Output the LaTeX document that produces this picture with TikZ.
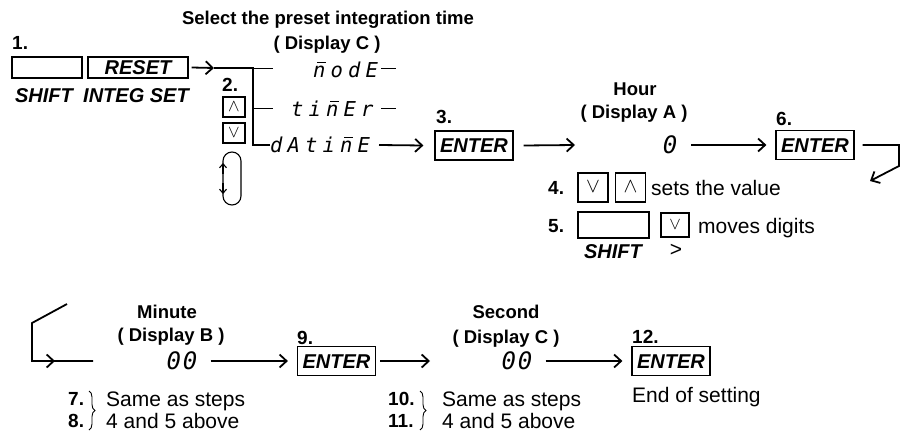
\documentclass[tikz,border=0pt]{standalone}
\usepackage{fontspec}
\setmainfont{Liberation Sans}
\newfontfamily\segfont{DejaVu Sans Mono}
\newfontfamily\segnum[LetterSpace=8]{DejaVu Sans Mono}
\newcommand\sgch[1]{\makebox[17.5pt][l]{#1}}
\newcommand\nbar{\rlap{\kern3.8pt\raisebox{14.2pt}{\rule{8.5pt}{1.1pt}}}n}
\usetikzlibrary{arrows.meta,decorations.pathreplacing}
\begin{document}
\begin{tikzpicture}[x=1pt,y=-1pt,
  conn/.style={line width=1.8pt},
  arr/.style={line width=1.8pt,-{Straight Barb[length=7pt,width=13pt]}},
  tap/.style={line width=0.9pt},
  key/.style={draw,line width=1.2pt,minimum width=78pt,minimum height=29pt,inner sep=0pt,
    font=\fontsize{20}{22}\selectfont\bfseries\itshape,text height=14.3pt,text depth=0pt},
  lbl/.style={font=\fontsize{20}{22}\selectfont\bfseries\itshape,inner sep=0pt,text height=14.3pt,text depth=0pt},
  head/.style={font=\fontsize{18.5}{20}\selectfont\bfseries,inner sep=0pt,text height=13.2pt,text depth=0pt},
  num/.style={font=\fontsize{19}{20}\selectfont\bfseries,inner sep=0pt,anchor=west,text height=13.6pt,text depth=0pt},
  body/.style={font=\fontsize{21}{22}\selectfont,inner sep=0pt,anchor=west,text height=15pt,text depth=0pt},
  seg/.style={font=\fontsize{20.5}{22}\selectfont\segfont\itshape,inner sep=0pt,anchor=west,text height=15pt,text depth=0pt},
  segn/.style={font=\fontsize{24}{26}\selectfont\segnum\itshape,inner sep=0pt,anchor=center,text height=17.5pt,text depth=0pt},
  brc/.style={line width=0.9pt,decorate,decoration={brace,amplitude=6pt}},
]
\useasboundingbox (0,0) rectangle (901,436);

% ---- step 1 / 2 ----
\node[head] (title) at (328,18) {Select the preset integration time};
\node[head] (dispC1) at (327,43) {( Display C )};
\node[num] (n1) at (12,43) {1.};
\node[key,minimum width=70pt,minimum height=21pt] (shift1) at (47,67.5) {};
\node[key,minimum width=100pt,minimum height=21pt] (reset) at (138,67.5) {RESET};
\node[lbl] (shiftl1) at (44,95) {SHIFT};
\node[lbl] (integ) at (136,95) {INTEG SET};

\node[seg] (mode) at (313,70) {\sgch{\nbar}\sgch{o}\sgch{d}E};
\node[seg] (timer) at (291,109) {\sgch{t}\sgch{i}\sgch{\nbar}\sgch{E}r};
\node[seg] (dat) at (270,145) {\sgch{d}\sgch{A}\sgch{t}\sgch{i}\sgch{\nbar}E};

\coordinate (ah1) at (214,68);
\coordinate (j1) at (253,68);
\coordinate (j3) at (253,108);
\coordinate (j2) at (253,145);
\coordinate (t1) at (273,68);
\coordinate (t2) at (273,108);
\draw[arr] ([xshift=3pt]reset.east) -- (ah1);
\draw[conn] (ah1) -- (j1) -- (j2) -- (dat.west);
\draw[tap] (j1) -- (t1);
\draw[tap] (j3) -- (t2);
\coordinate (d1a) at (381,68); \coordinate (d1b) at (396,68);
\coordinate (d2a) at (381,108); \coordinate (d2b) at (396,108);
\draw[tap] (d1a) -- (d1b);
\draw[tap] (d2a) -- (d2b);

\node[num] (n2) at (222,85) {2.};
\node[key,minimum width=22pt,minimum height=20pt,font=\fontsize{16}{18}\selectfont,text height=8pt] (up2) at (234,107) {$\wedge$};
\node[key,minimum width=22pt,minimum height=20pt,font=\fontsize{16}{18}\selectfont,text height=8pt] (dn2) at (234,133) {$\vee$};
\draw[line width=1.1pt,rounded corners=9pt] (223,152) rectangle (241,205);
\draw[line width=1.1pt,-{Straight Barb[length=4pt,width=7pt]}] (223,174) -- (223,163);
\draw[line width=1.1pt,-{Straight Barb[length=4pt,width=7pt]}] (223,183) -- (223,194);

% ---- step 3 ----
\coordinate (a3s) at (379,145);
\node[num] (n3) at (436,117) {3.};
\node[key] (ent3) at (474,145.5) {ENTER};
\draw[arr] (a3s) -- ([xshift=-11pt]ent3.west);
\coordinate (a4e) at (575,145);
\draw[arr] ([xshift=10pt]ent3.east) -- (a4e);

% ---- hour ----
\node[head] (hour) at (635,89) {Hour};
\node[head] (dispA) at (634,112) {( Display A )};
\node[segn] (zero) at (670,145) {0};
\node[num] (n6) at (776,119) {6.};
\node[key] (ent6) at (815,145) {ENTER};
\draw[arr] ([xshift=14pt]zero.east) -- ([xshift=-9pt]ent6.west);
\coordinate (r1) at (899,145);
\coordinate (r2) at (899,166);
\coordinate (r3) at (870,181);
\draw[arr,line join=miter] ([xshift=8pt]ent6.east) -- (r1) -- (r2) -- (r3);

\node[num] (n4) at (548,188) {4.};
\node[key,minimum width=30pt,minimum height=29pt,font=\fontsize{20}{22}\selectfont,text height=10pt] (dn4) at (593,187.5) {$\vee$};
\node[key,minimum width=30pt,minimum height=29pt,font=\fontsize{20}{22}\selectfont,text height=10pt] (up4) at (630.5,187.5) {$\wedge$};
\node[body] (sets) at (651,188) {sets the value};

\node[num] (n5) at (548,226) {5.};
\node[key,minimum width=71pt,minimum height=26pt] (shift5) at (613.5,225) {};
\node[lbl] (shiftl5) at (613,251) {SHIFT};
\node[key,minimum width=28pt,minimum height=24pt,font=\fontsize{18}{20}\selectfont,text height=9pt] (dn5) at (675,225) {$\vee$};
\node[body,anchor=center] (gt) at (676,249) {>};
\node[body] (moves) at (698,226) {moves digits};

% ---- minute ----
\coordinate (b0) at (67,304);
\coordinate (b1) at (32,323);
\coordinate (b2) at (32,361);
\coordinate (b3) at (55,361);
\coordinate (b4) at (93,361);
\draw[conn,line join=miter] (b0) -- (b1) -- (b2) -- (b4);
\draw[arr] (b2) -- (b3);
\node[head] (minute) at (167,312) {Minute};
\node[head] (dispB) at (171,335) {( Display B )};
\node[segn] (mm) at (182,361) {00};
\node[num] (n9) at (297,338) {9.};
\node[key] (ent9) at (336.5,361) {ENTER};
\draw[arr] ([xshift=13pt]mm.east) -- ([xshift=-9pt]ent9.west);
\coordinate (a10e) at (430,361);
\draw[arr] ([xshift=4pt]ent9.east) -- (a10e);

\node[num] (n7) at (68,399) {7.};
\node[num] (n8) at (68,421) {8.};
\draw[brc] (89,391) -- (89,430);
\node[body] (same1) at (106,399) {Same as steps};
\node[body] (above1) at (106,421) {4 and 5 above};

% ---- second ----
\node[head] (second) at (506,312) {Second};
\node[head] (dispC2) at (506,337) {( Display C )};
\node[segn] (ss) at (517,361) {00};
\node[num] (n12) at (632,337) {12.};
\node[key] (ent12) at (671,361) {ENTER};
\draw[arr] ([xshift=13pt]ss.east) -- ([xshift=-9pt]ent12.west);
\node[body] (endset) at (632,395) {End of setting};

\node[num] (n10) at (388,399) {10.};
\node[num] (n11) at (388,421) {11.};
\draw[brc] (420,391) -- (420,430);
\node[body] (same2) at (442,399) {Same as steps};
\node[body] (above2) at (442,421) {4 and 5 above};
\end{tikzpicture}
\end{document}
